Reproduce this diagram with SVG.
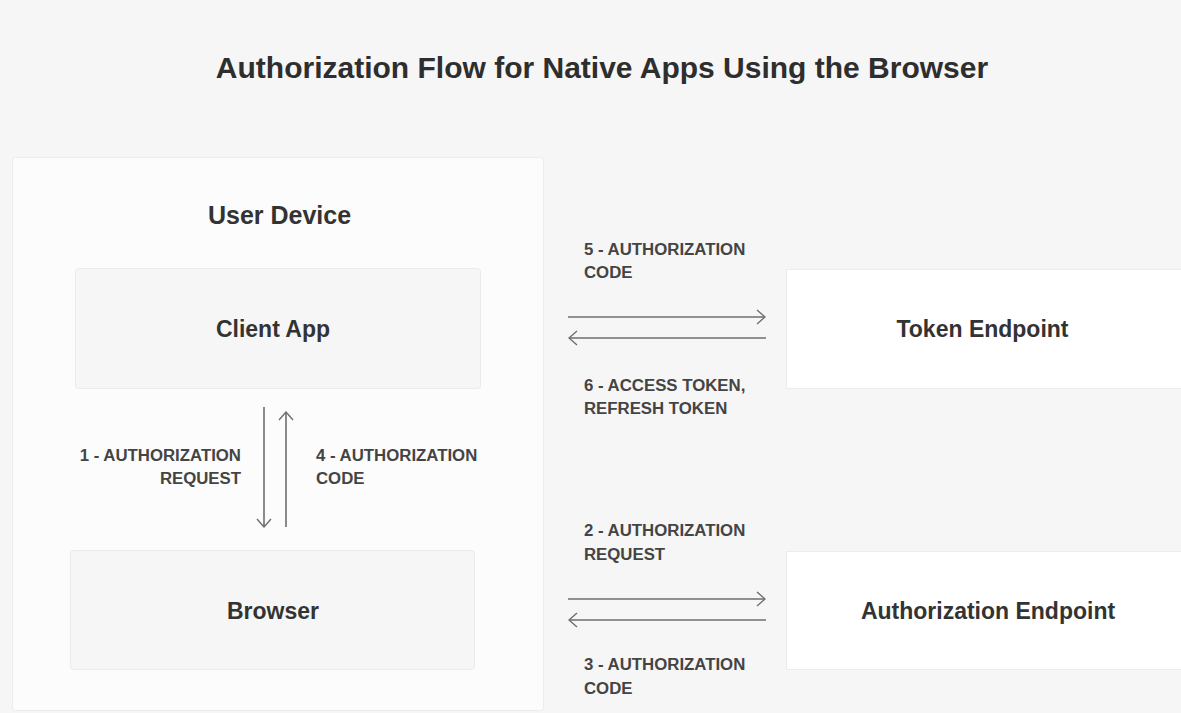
<svg xmlns="http://www.w3.org/2000/svg" width="1181" height="713" viewBox="0 0 1181 713">
<style>
.title{font-family:"Liberation Sans",Arial,sans-serif;font-weight:700;font-size:30px;fill:#2e2e2e;text-anchor:middle}
.head{font-family:"Liberation Sans",Arial,sans-serif;font-weight:700;font-size:23px;fill:#333;text-anchor:middle}
.lbl{font-family:"Liberation Sans",Arial,sans-serif;font-weight:700;font-size:16.8px;fill:#444}
.inner{fill:#f6f6f6;stroke:#ebebeb;stroke-width:1}
.ep{fill:#ffffff;stroke:#ececec;stroke-width:1}
.conn{stroke:#6e6e6e;stroke-width:1.6;fill:none}
</style>
<defs>
<marker id="arr" viewBox="0 0 10 16" refX="9" refY="8" markerWidth="10" markerHeight="16" markerUnits="userSpaceOnUse" orient="auto">
<path d="M1,1 L9,8 L1,15" fill="none" stroke="#6e6e6e" stroke-width="1.4"/>
</marker>
</defs>
<rect x="0" y="0" width="1181" height="713" fill="#f6f6f6"/>
<text class="title" x="602" y="78">Authorization Flow for Native Apps Using the Browser</text>

<g id="user-device">
<rect x="12.5" y="157.5" width="531" height="553" rx="3" fill="#fcfcfc" stroke="#ececec"/>
<text class="head" x="279.5" y="224" style="font-size:25px">User Device</text>
</g>
<g id="client-app">
<rect class="inner" x="75.5" y="268.5" width="405" height="120" rx="3"/>
<text class="head" x="273" y="337">Client App</text>
</g>
<g id="browser">
<rect class="inner" x="70.5" y="550.5" width="404" height="119" rx="3"/>
<text class="head" x="273" y="619">Browser</text>
</g>
<g id="token-endpoint">
<rect class="ep" x="786.5" y="269.5" width="400" height="119"/>
<text class="head" x="982.5" y="337">Token Endpoint</text>
</g>
<g id="authorization-endpoint">
<rect class="ep" x="786.5" y="551.5" width="400" height="118"/>
<text class="head" x="988" y="619">Authorization Endpoint</text>
</g>

<g id="connectors">
<line class="conn" x1="264" y1="407" x2="264" y2="527" marker-end="url(#arr)"/>
<line class="conn" x1="286" y1="527" x2="286" y2="412" marker-end="url(#arr)"/>
<line class="conn" x1="568" y1="317" x2="765" y2="317" marker-end="url(#arr)"/>
<line class="conn" x1="766" y1="338" x2="569" y2="338" marker-end="url(#arr)"/>
<line class="conn" x1="568" y1="599" x2="765" y2="599" marker-end="url(#arr)"/>
<line class="conn" x1="766" y1="620" x2="569" y2="620" marker-end="url(#arr)"/>
</g>

<g id="labels">
<text class="lbl" x="584" y="255">5 - AUTHORIZATION</text>
<text class="lbl" x="584" y="278">CODE</text>
<text class="lbl" x="584" y="391">6 - ACCESS TOKEN,</text>
<text class="lbl" x="584" y="414">REFRESH TOKEN</text>
<text class="lbl" x="241" y="461" text-anchor="end">1 - AUTHORIZATION</text>
<text class="lbl" x="241" y="484" text-anchor="end">REQUEST</text>
<text class="lbl" x="316" y="461">4 - AUTHORIZATION</text>
<text class="lbl" x="316" y="484">CODE</text>
<text class="lbl" x="584" y="536">2 - AUTHORIZATION</text>
<text class="lbl" x="584" y="560">REQUEST</text>
<text class="lbl" x="584" y="670">3 - AUTHORIZATION</text>
<text class="lbl" x="584" y="694">CODE</text>
</g>
</svg>
